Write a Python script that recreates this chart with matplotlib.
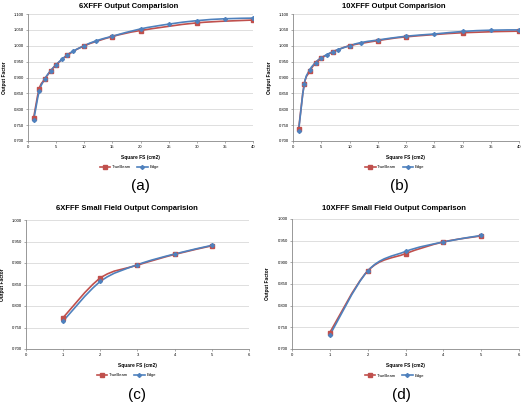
import numpy as np
import matplotlib
matplotlib.use('Agg')
import matplotlib.pyplot as plt
from matplotlib.path import Path
from matplotlib.patches import PathPatch
from matplotlib.ticker import FormatStrFormatter, MultipleLocator

plt.rcParams['font.family'] = ['Liberation Sans', 'DejaVu Sans']

# === data ===
fs_tb_a = [1, 2, 3, 4, 5, 7, 10, 15, 20, 30, 40]
of_tb_a = [0.773, 0.865, 0.895, 0.920, 0.940, 0.970, 1.000, 1.029, 1.048, 1.072, 1.081]
fs_edge_a = [1, 2, 3, 4, 5, 6, 7, 8, 10, 12, 15, 20, 25, 30, 35, 40]
of_edge_a = [0.765, 0.857, 0.896, 0.921, 0.940, 0.957, 0.971, 0.983, 1.000, 1.015,
             1.030, 1.053, 1.068, 1.079, 1.085, 1.087]

fs_tb_b = [1, 2, 3, 4, 5, 7, 10, 15, 20, 30, 40]
of_tb_b = [0.738, 0.880, 0.920, 0.947, 0.961, 0.980, 1.000, 1.016, 1.028, 1.041, 1.046]
fs_edge_b = [1, 2, 3, 4, 5, 6, 7, 8, 10, 12, 15, 20, 25, 30, 35, 40]
of_edge_b = [0.733, 0.880, 0.925, 0.947, 0.962, 0.972, 0.981, 0.988, 1.000, 1.010,
             1.018, 1.030, 1.037, 1.045, 1.049, 1.050]

fs_small = [1, 2, 3, 4, 5]
of_tb_c = [0.773, 0.865, 0.895, 0.920, 0.940]
of_edge_c = [0.765, 0.857, 0.896, 0.921, 0.941]
of_tb_d = [0.738, 0.880, 0.920, 0.947, 0.961]
of_edge_d = [0.732, 0.880, 0.925, 0.947, 0.962]

titles = ['6XFFF Output Comparision', '10XFFF Output Comparision',
          '6XFFF Small Field Output Comparision', '10XFFF Small Field Output Comparison']
panel_tags = ['(a)', '(b)', '(c)', '(d)']

red = '#C0504D'
blue = '#4F81BD'


def smooth_line(ax, x, y, color):
    # Excel style smoothed line: cubic bezier through the points
    x = np.asarray(x, float)
    y = np.asarray(y, float)
    n = len(x)
    verts = [(x[0], y[0])]
    codes = [Path.MOVETO]
    for i in range(n - 1):
        x0, y0 = (x[i - 1], y[i - 1]) if i > 0 else (x[i], y[i])
        x3, y3 = (x[i + 2], y[i + 2]) if i + 2 < n else (x[i + 1], y[i + 1])
        c1 = (x[i] + (x[i + 1] - x0) / 6, y[i] + (y[i + 1] - y0) / 6)
        c2 = (x[i + 1] - (x3 - x[i]) / 6, y[i + 1] - (y3 - y[i]) / 6)
        verts += [c1, c2, (x[i + 1], y[i + 1])]
        codes += [Path.CURVE4] * 3
    ax.add_patch(PathPatch(Path(verts, codes), fill=False, edgecolor=color, lw=1.2))


fig = plt.figure(figsize=(5.22, 4.05), dpi=100)

axes_pos = [
    [28 / 522, 1 - 141 / 405, 225 / 522, 127 / 405],
    [293 / 522, 1 - 141 / 405, 226 / 522, 127 / 405],
    [26 / 522, 1 - 349 / 405, 223 / 522, 129 / 405],
    [292 / 522, 1 - 349 / 405, 227 / 522, 130 / 405],
]
title_xy = [(129, 6), (394, 6), (127, 209), (394, 209)]
tag_xy = [(140, 186), (399, 186), (137, 395), (401, 395)]

series = [
    (fs_tb_a, of_tb_a, fs_edge_a, of_edge_a),
    (fs_tb_b, of_tb_b, fs_edge_b, of_edge_b),
    (fs_small, of_tb_c, fs_small, of_edge_c),
    (fs_small, of_tb_d, fs_small, of_edge_d),
]

for k in range(4):
    ax = fig.add_axes(axes_pos[k])
    xt, yt, xe, ye = series[k]
    smooth_line(ax, xt, yt, red)
    smooth_line(ax, xe, ye, blue)
    ax.plot(xt, yt, ls='none', marker='s', ms=2.8, color=red)
    ax.plot(xe, ye, ls='none', marker='D', ms=2.0, color=blue)
    ax.plot([], [], color=red, marker='s', ms=2.8, lw=1.2, label='TrueBeam')
    ax.plot([], [], color=blue, marker='D', ms=2.0, lw=1.2, label='Edge')

    if k < 2:
        ax.set_xlim(0, 40)
        ax.xaxis.set_major_locator(MultipleLocator(5))
        ax.set_ylim(0.7, 1.1)
    else:
        ax.set_xlim(0, 6)
        ax.xaxis.set_major_locator(MultipleLocator(1))
        ax.set_ylim(0.7, 1.0)
    ax.yaxis.set_major_locator(MultipleLocator(0.05))
    ax.yaxis.set_major_formatter(FormatStrFormatter('%.3f'))
    ax.grid(axis='y', color='#d9d9d9', lw=0.6)
    ax.set_axisbelow(True)
    for s in ['top', 'right']:
        ax.spines[s].set_visible(False)
    for s in ['left', 'bottom']:
        ax.spines[s].set_color('#888888')
        ax.spines[s].set_linewidth(0.6)
    ax.tick_params(labelsize=3, length=1.5, width=0.5, color='#888888', pad=1.5)

    ax.set_xlabel('Square FS (cm2)', fontsize=3.5, fontweight='bold')
    ax.set_ylabel('Output Factor', fontsize=3.5, fontweight='bold')
    ax.xaxis.set_label_coords(0.5, -0.11)
    ax.yaxis.set_label_coords(-0.095, 0.5)

    ax.legend(loc='center', bbox_to_anchor=(0.45, -0.205), ncol=2, frameon=False,
              fontsize=3, handlelength=2.5, columnspacing=1.5, handletextpad=0.4)

    tx, ty = title_xy[k]
    fig.text(tx / 522, 1 - ty / 405, titles[k], ha='center', va='center',
             fontsize=5.5, fontweight='bold')
    gx, gy = tag_xy[k]
    fig.text(gx / 522, 1 - gy / 405, panel_tags[k], ha='center', va='center', fontsize=11)

fig.savefig('out.png', dpi=100)
